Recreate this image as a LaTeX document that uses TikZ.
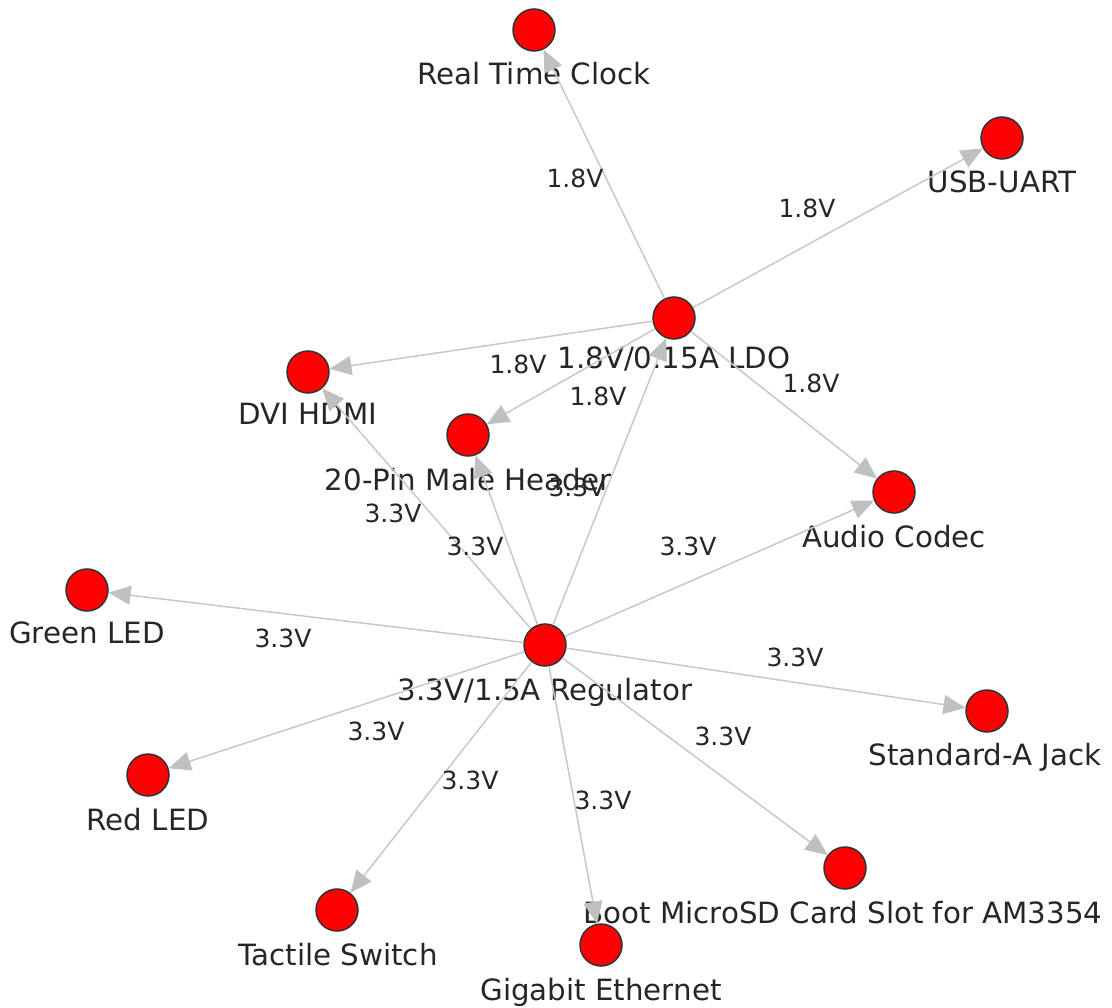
\documentclass[tikz,border=0pt]{standalone}
\usepackage{fontspec}
\setmainfont{DejaVu Sans}
\usetikzlibrary{arrows.meta}
\definecolor{partred}{RGB}{255,0,0}
\definecolor{railgray}{RGB}{200,200,200}
\definecolor{tipgray}{RGB}{192,192,192}
\definecolor{textgray}{RGB}{38,38,38}

\begin{document}
\begin{tikzpicture}[x=1pt,y=-1pt,
part/.style={circle, draw=black!80, fill=partred, line width=1.5pt, minimum size=42pt, inner sep=0pt},
caption/.style={text=textgray, font=\fontsize{29.3}{35}\selectfont, inner sep=0pt, anchor=base},
rail/.style={draw=railgray, line width=1.5pt, -{Triangle[length=22pt,width=19pt,color=tipgray]}},
volt/.style={text=textgray, font=\fontsize{25}{30}\selectfont, inner sep=0pt}
]
\useasboundingbox (0,0) rectangle (1112,1008);

\node[part](real_time_clock) at (534,30){};
\node[part](usb_uart) at (1002,138){};
\node[part](ldo_18) at (674,318){};
\node[part](dvi_hdmi) at (308,372){};
\node[part](pin_header) at (468,435){};
\node[part](audio_codec) at (894,492){};
\node[part](green_led) at (87,590){};
\node[part](reg_33) at (545,645){};
\node[part](std_a_jack) at (987,711){};
\node[part](red_led) at (148,775){};
\node[part](microsd_slot) at (845,868){};
\node[part](tactile_switch) at (337,910){};
\node[part](gigabit_eth) at (601,945){};

% names under the parts
\node[caption](real_time_clock_txt) at ([yshift=-54.5pt]real_time_clock){Real Time Clock};
\node[caption](usb_uart_txt) at ([yshift=-54.5pt]usb_uart){USB-UART};
\node[caption](ldo_18_txt) at ([yshift=-50.5pt]ldo_18){1.8V/0.15A LDO};
\node[caption](dvi_hdmi_txt) at ([yshift=-52.5pt]dvi_hdmi){DVI HDMI};
\node[caption](pin_header_txt) at ([yshift=-55.5pt]pin_header){20-Pin Male Header};
\node[caption](audio_codec_txt) at ([yshift=-55.5pt]audio_codec){Audio Codec};
\node[caption](green_led_txt) at ([yshift=-53.5pt]green_led){Green LED};
\node[caption](reg_33_txt) at ([yshift=-55.5pt]reg_33){3.3V/1.5A Regulator};
\node[caption](std_a_jack_txt) at ([yshift=-54.5pt,xshift=-2pt]std_a_jack){Standard-A Jack};
\node[caption](red_led_txt) at ([yshift=-55.5pt]red_led){Red LED};
\node[caption](microsd_slot_txt) at ([yshift=-55.5pt,xshift=-2pt]microsd_slot){Boot MicroSD Card Slot for AM3354};
\node[caption](tactile_switch_txt) at ([yshift=-55.5pt,xshift=1pt]tactile_switch){Tactile Switch};
\node[caption](gigabit_eth_txt) at ([yshift=-55.5pt]gigabit_eth){Gigabit Ethernet};

% 1.8V rail
\draw[rail] (ldo_18) -- (real_time_clock) node[volt] at (575,178){1.8V};
\draw[rail] (ldo_18) -- (usb_uart) node[volt] at (807,208){1.8V};
\draw[rail] (ldo_18) -- (dvi_hdmi) node[volt] at (518,364){1.8V};
\draw[rail] (ldo_18) -- (pin_header) node[volt] at (598,396){1.8V};
\draw[rail] (ldo_18) -- (audio_codec) node[volt] at (811,383){1.8V};

% 3.3V rail
\draw[rail] (reg_33) -- (ldo_18) node[volt] at (577,487){3.3V};
\draw[rail] (reg_33) -- (dvi_hdmi) node[volt] at (393,513){3.3V};
\draw[rail] (reg_33) -- (pin_header) node[volt] at (475,546){3.3V};
\draw[rail] (reg_33) -- (audio_codec) node[volt] at (688,546){3.3V};
\draw[rail] (reg_33) -- (green_led) node[volt] at (283,638){3.3V};
\draw[rail] (reg_33) -- (std_a_jack) node[volt] at (795,657){3.3V};
\draw[rail] (reg_33) -- (red_led) node[volt] at (376,731){3.3V};
\draw[rail] (reg_33) -- (tactile_switch) node[volt] at (470,780){3.3V};
\draw[rail] (reg_33) -- (gigabit_eth) node[volt] at (603,800){3.3V};
\draw[rail] (reg_33) -- (microsd_slot) node[volt] at (723,736){3.3V};
\end{tikzpicture}
\end{document}
